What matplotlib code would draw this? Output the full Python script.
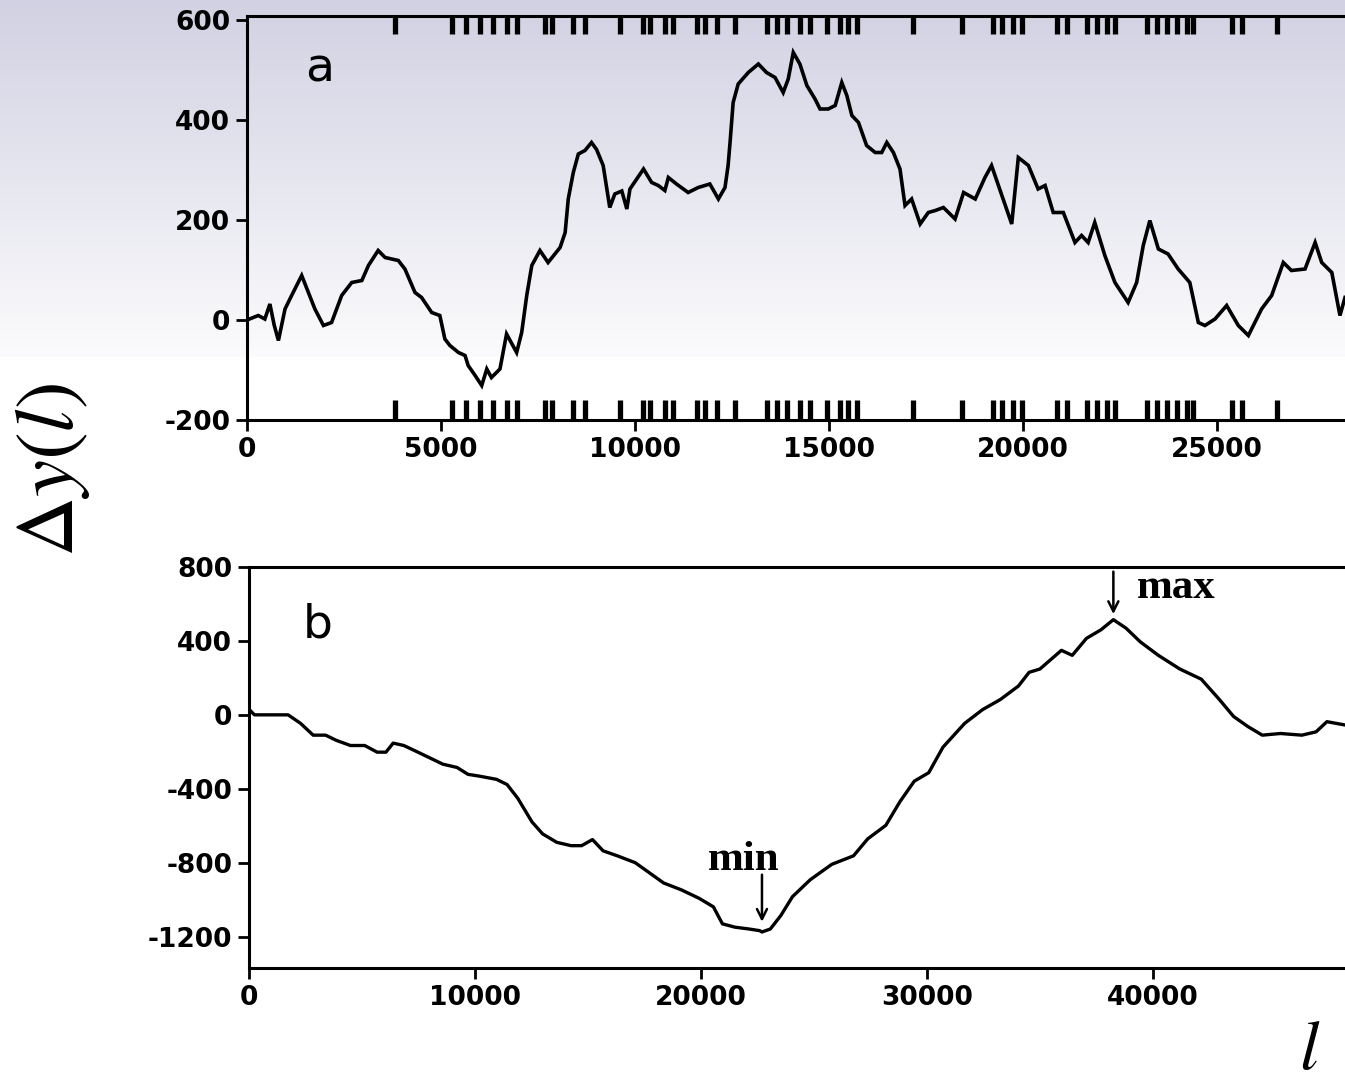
import numpy as np
import matplotlib
matplotlib.use("Agg")
import matplotlib.pyplot as plt

# ── Data ─────────────────────────────────────────────────────────────────────
# panel a: walk over the first ~28 kb
a_pos = [0, 290, 460, 590, 700, 810, 980, 1150, 1410, 1750, 1970, 2180, 2440,
         2700, 2960, 3130, 3380, 3560, 3900, 4070, 4330, 4500, 4760, 4970, 5100,
         5230, 5450, 5620, 5700, 5880, 6050, 6180, 6300, 6520, 6690, 6950, 7080,
         7210, 7340, 7550, 7760, 8070, 8200, 8280, 8410, 8540, 8710, 8880, 9010,
         9180, 9350, 9480, 9660, 9790, 9870, 10220, 10430, 10600, 10770, 10860,
         11070, 11370, 11630, 11930, 12150, 12320, 12400, 12450, 12530, 12660,
         12920, 13180, 13390, 13610, 13820, 13950, 14080, 14250, 14430, 14640,
         14770, 14980, 15160, 15330, 15460, 15590, 15760, 15970, 16190, 16360,
         16490, 16660, 16830, 16960, 17130, 17350, 17560, 17740, 17950, 18250,
         18470, 18770, 19020, 19190, 19400, 19710, 19880, 20140, 20390, 20570,
         20780, 21040, 21340, 21510, 21680, 21850, 22110, 22370, 22710, 22930,
         23100, 23270, 23490, 23740, 24000, 24300, 24520, 24690, 24950, 25250,
         25550, 25810, 26150, 26410, 26710, 26920, 27270, 27530, 27700, 27960,
         28170, 28300]
a_dy = [0, 9, 2, 32, -10, -41, 22, 49, 89, 22, -11, -5, 49,
        75, 79, 109, 139, 125, 119, 102, 55, 45, 15, 9, -38,
        -51, -65, -71, -91, -111, -131, -98, -115, -98, -28, -65, -25,
        49, 109, 139, 115, 145, 175, 242, 295, 332, 339, 355, 341,
        309, 225, 252, 258, 222, 262, 302, 275, 269, 259, 285,
        272, 255, 265, 272, 242, 265, 309, 355, 435, 472,
        495, 512, 495, 485, 455, 482, 535, 512, 469, 442,
        422, 422, 429, 475, 449, 409, 395, 349, 335, 335,
        355, 335, 302, 229, 242, 192, 215, 219, 225, 202,
        255, 242, 285, 309, 262, 192, 325, 309, 262, 269,
        215, 215, 155, 169, 155, 195, 129, 75, 35, 75,
        149, 199, 142, 132, 102, 75, -5, -11, 2, 29,
        -11, -31, 22, 49, 115, 99, 102, 155, 115, 95,
        9, 45]

# marker positions drawn along top and bottom of panel a
marks = [3810, 5280, 5640, 6000, 6350, 6690, 6950, 7680, 7850, 8410, 8710,
         9610, 10210, 10390, 10770, 10990, 11590, 11800, 12110, 12580, 13390,
         13650, 13910, 14250, 14510, 14940, 15280, 15500, 15710, 17170, 18420,
         19240, 19450, 19750, 19970, 20870, 21130, 21640, 21900, 22160, 22370,
         23190, 23450, 23700, 23960, 24220, 24390, 25380, 25640, 26540]

# panel b: walk over the whole sequence
b_pos = [0, 240, 1730, 2280, 2840, 3390, 3860, 4490, 5120, 5670, 6060, 6380,
         6850, 7320, 7950, 8580, 9210, 9690, 10160, 10950, 11420, 11890, 12520,
         12990, 13620, 14250, 14720, 15200, 15670, 16300, 17090, 17720, 18350,
         19130, 19920, 20550, 20950, 21500, 22130, 22600, 22700, 23070, 23540,
         24050, 24840, 25790, 26750, 27380, 28180, 28810, 29440, 30080, 30710,
         31670, 32460, 33250, 34050, 34520, 35000, 35950, 36430, 37060, 37700,
         38250, 38810, 39440, 40240, 41190, 42140, 42940, 43570, 44210, 44840,
         45640, 46590, 47220, 47700, 48500]
b_dy = [30, 0, 0, -46, -110, -110, -138, -166, -166, -202, -202, -153,
        -166, -193, -230, -267, -285, -322, -331, -349, -377, -451, -579,
        -644, -690, -708, -708, -675, -736, -763, -800, -855, -910,
        -947, -993, -1039, -1131, -1149, -1159, -1168, -1175, -1159, -1085,
        -984, -892, -809, -763, -671, -598, -469, -359, -313, -175,
        -46, 28, 83, 156, 230, 248, 349, 322, 414, 460,
        515, 469, 395, 322, 248, 193, 83, -9, -64, -110,
        -101, -110, -92, -37, -55]

min_pos, min_val = 22700, -1175
max_pos, max_val = 38250, 515

a_yticks = [-200, 0, 200, 400, 600]
a_xticks = [0, 5000, 10000, 15000, 20000, 25000]
b_yticks = [-1200, -800, -400, 0, 400, 800]
b_xticks = [0, 10000, 20000, 30000, 40000]

plt.rcParams["axes.unicode_minus"] = False
plt.rcParams["mathtext.fontset"] = "stix"

# ── Figure ───────────────────────────────────────────────────────────────────
fig = plt.figure(figsize=(13.45, 10.88), dpi=100)

# soft lavender wash across the top of the page
bg = fig.add_axes([0, 0, 1, 1], zorder=0)
bg.axis("off")
rows = 1088
fade = 357
top = np.array([0.82, 0.82, 0.89])
low = np.array([0.985, 0.985, 0.99])
t = np.clip(np.arange(rows) / fade, 0, 1)[:, None]
img = top * (1 - t) + low * t
img[fade:] = 1.0
bg.imshow(np.repeat(img[:, None, :], 4, axis=1), aspect="auto",
          extent=[0, 1, 0, 1], interpolation="bilinear")

tick_font = dict(family="DejaVu Sans", weight="bold", size=19)
lw_axis = 2.2


def style_axes(ax):
    ax.set_facecolor("none")
    ax.spines["right"].set_visible(False)
    for s in ("left", "bottom", "top"):
        ax.spines[s].set_linewidth(lw_axis)
    ax.tick_params(axis="both", direction="out", length=8, width=2,
                   pad=4, top=False, right=False)
    for lab in ax.get_xticklabels() + ax.get_yticklabels():
        lab.set_fontproperties(matplotlib.font_manager.FontProperties(**tick_font))


# ── Panel a ──────────────────────────────────────────────────────────────────
ax_a = fig.add_axes([247 / 1345, 1 - 420 / 1088, 1098 / 1345, 404 / 1088], zorder=2)
ax_a.plot(a_pos, a_dy, color="black", linewidth=2.6, solid_joinstyle="miter")
ax_a.set_xlim(0, 28300)
ax_a.set_ylim(-200, 608)
ax_a.set_xticks(a_xticks)
ax_a.set_yticks(a_yticks)
ax_a.vlines(marks, 0, 0.05, transform=ax_a.get_xaxis_transform(),
            color="black", linewidth=3.8)
ax_a.vlines(marks, 0.955, 1, transform=ax_a.get_xaxis_transform(),
            color="black", linewidth=3.8)
style_axes(ax_a)
ax_a.text(0.066, 0.87, "a", transform=ax_a.transAxes, fontsize=34,
          family="DejaVu Sans", ha="center", va="center")

# ── Panel b ──────────────────────────────────────────────────────────────────
ax_b = fig.add_axes([249 / 1345, 1 - 968 / 1088, 1096 / 1345, 401 / 1088], zorder=2)
ax_b.plot(b_pos, b_dy, color="black", linewidth=2.4)
ax_b.set_xlim(0, 48500)
ax_b.set_ylim(-1370, 800)
ax_b.set_xticks(b_xticks)
ax_b.set_yticks(b_yticks)
style_axes(ax_b)
ax_b.text(0.063, 0.855, "b", transform=ax_b.transAxes, fontsize=34,
          family="DejaVu Sans", ha="center", va="center")

arrow = dict(arrowstyle="->", color="black", lw=1.8, mutation_scale=18)
ax_b.annotate("", xy=(min_pos, min_val + 40), xytext=(min_pos, -850),
              arrowprops=arrow)
ax_b.text(21900, -839, "min", family="Liberation Serif", weight="bold",
          fontsize=31, ha="center", va="baseline")
ax_b.annotate("", xy=(max_pos, max_val + 15), xytext=(max_pos, 790),
              arrowprops=arrow)
ax_b.text(39290, 630, "max", family="Liberation Serif", weight="bold",
          fontsize=31, ha="left", va="baseline", clip_on=True)

# ── Axis titles ──────────────────────────────────────────────────────────────
fig.text(52 / 1345, 1 - 470 / 1088, r"$\Delta y(l)$", rotation=90,
         fontsize=60, ha="center", va="center")
fig.text(1310 / 1345, 1 - 1050 / 1088, r"$l$", fontsize=50,
         ha="center", va="center")

fig.savefig("out.png", dpi=100)
